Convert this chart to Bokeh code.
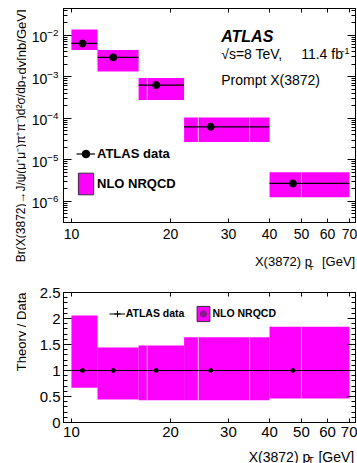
import math
import numpy as np
from bokeh.plotting import figure
from bokeh.models import (ColumnDataSource, FixedTicker, LogAxis, LinearAxis, Label,
                          Legend, LegendItem, Range1d, BasicTickFormatter, Whisker, TeeHead)
from bokeh.layouts import column, row
from bokeh.embed import file_html
from bokeh.resources import INLINE
from bokeh.core.properties import value

# ---------------- data ----------------
bin_lo = [10, 12, 16, 22, 40]
bin_hi = [12, 16, 22, 40, 70]
pt_mean = [10.8, 13.4, 18.1, 26.5, 47.1]
xsec = [6.35e-3, 2.93e-3, 6.3e-4, 6.25e-5, 2.7e-6]
xsec_up = [8.1e-3, 3.2e-3, 6.9e-4, 7.0e-5, 3.6e-6]
xsec_down = [4.9e-3, 2.67e-3, 5.7e-4, 5.6e-5, 1.7e-6]
nrqcd_up = [1.38e-2, 4.4e-3, 9.3e-4, 1.05e-4, 5.0e-6]
nrqcd_down = [4.4e-3, 1.33e-3, 2.77e-4, 2.7e-5, 1.26e-6]
nrqcd_sub_edges = [17, 24.3, 34.8, 50]
ratio_data = [1, 1, 1, 1, 1]
ratio_data_up = [1.23, 1.09, 1.09, 1.12, 1.35]
ratio_data_down = [0.78, 0.91, 0.91, 0.90, 0.65]
ratio_nrqcd_up = [2.06, 1.44, 1.48, 1.64, 1.84]
ratio_nrqcd_down = [0.67, 0.44, 0.43, 0.43, 0.46]
x_ticks = [10, 20, 30, 40, 50, 60, 70]
y_ticks_top = [1e-6, 1e-5, 1e-4, 1e-3, 1e-2]
y_ticks_ratio = [0, 0.5, 1, 1.5, 2, 2.5]
y_labels_ratio = ["0", "0.5", "1", "1.5", "2", "2.5"]

# ---------------- style ----------------
FONT = "Liberation Sans"
MAGENTA = "#ff00ff"
SUBLINE = "#ffc4ff"
W = 357
H = 463
LW = 26            # width of the strip holding the rotated y titles
MW = W - LW        # width of the plotting figures
TOP_H = 246
TOP_XLAB_H = 24
BOT_H = 175
BOT_XLAB_H = 18


def style_axis(ax, tick_in, minor_in, font_size, standoff, show_labels=True):
    ax.major_tick_in = tick_in
    ax.major_tick_out = 0
    ax.minor_tick_in = minor_in
    ax.minor_tick_out = 0
    ax.axis_line_color = "black"
    ax.major_tick_line_color = "black"
    ax.minor_tick_line_color = "black"
    ax.major_label_text_font = FONT
    ax.major_label_text_color = "black"
    if show_labels:
        ax.major_label_text_font_size = font_size
        ax.major_label_standoff = standoff
    else:
        ax.major_label_text_font_size = "1px"
        ax.major_label_text_alpha = 0
        ax.major_label_standoff = 0


def add_label(p, x, y, text, size, style="normal", align="left", angle=0.0):
    p.add_layout(Label(x=x, y=y, x_units="screen", y_units="screen", text=text,
                       text_font=FONT, text_font_size=size, text_font_style=style,
                       text_align=align, text_baseline="alphabetic", angle=angle,
                       text_color="black"))


def text_strip(w, h):
    # pixel-scaled figure with no axes: data units == pixels from the bottom-left corner
    f = figure(width=w, height=h, x_range=Range1d(0, w), y_range=Range1d(0, h),
               toolbar_location=None, output_backend="svg", min_border=0, title=None,
               x_axis_location=None, y_axis_location=None)
    f.grid.visible = False
    f.outline_line_color = None
    return f


def strip_text(f, xs, ys, texts, size):
    f.text(x=xs, y=ys, text=texts, text_font=value(FONT), text_font_size=size,
           text_align="left", text_baseline="alphabetic", text_color="black")


def sub_edge_source(lo_vals, hi_vals):
    idx = np.searchsorted(bin_hi, nrqcd_sub_edges)
    return ColumnDataSource(dict(x=nrqcd_sub_edges,
                                 y0=[lo_vals[i] for i in idx],
                                 y1=[hi_vals[i] for i in idx]))


# ================= top panel =================
top = figure(width=MW, height=TOP_H, x_axis_type="log", y_axis_type="log",
             x_range=Range1d(9.46, 73.0), y_range=Range1d(3.1e-7, 0.044),
             output_backend="svg", toolbar_location=None, title=None,
             min_border_left=63 - LW, min_border_right=2, min_border_top=8,
             min_border_bottom=24)
top.grid.visible = False
top.outline_line_color = "black"
top.outline_line_alpha = 1

y_minor_top = [k * 10.0 ** e for e in range(-7, -1) for k in range(1, 10)]
xt_top = FixedTicker(ticks=x_ticks, minor_ticks=[])
yt_top = FixedTicker(ticks=y_ticks_top, minor_ticks=y_minor_top)

bx = top.below[0]
bx.ticker = xt_top
bx.formatter = BasicTickFormatter()
style_axis(bx, 4, 0, "14px", 6)
ly = top.left[0]
ly.ticker = yt_top
style_axis(ly, 8, 4, "14px", 5)
ry = LogAxis(ticker=yt_top)
style_axis(ry, 8, 4, "1px", 0, show_labels=False)
top.add_layout(ry, "right")
ax_top = LogAxis(ticker=xt_top, formatter=BasicTickFormatter())
style_axis(ax_top, 4, 0, "1px", 0, show_labels=False)
top.add_layout(ax_top, "above")

src = ColumnDataSource(dict(lo=bin_lo, hi=bin_hi, x=pt_mean, y=xsec, up=xsec_up,
                            down=xsec_down, tu=nrqcd_up, td=nrqcd_down))
top.quad(left="lo", right="hi", bottom="td", top="tu", source=src,
         fill_color=MAGENTA, line_color=None)
top.segment(x0="x", x1="x", y0="y0", y1="y1", source=sub_edge_source(nrqcd_down, nrqcd_up),
            line_color=SUBLINE, line_width=1)
xerr_top = top.segment(x0="lo", x1="hi", y0="y", y1="y", source=src,
                       line_color="black", line_width=1.2)
top.add_layout(Whisker(base="x", upper="up", lower="down", source=src, dimension="height",
                       line_color="black", line_width=1.2,
                       upper_head=TeeHead(size=4, line_color="black", line_width=1.2),
                       lower_head=TeeHead(size=4, line_color="black", line_width=1.2)))
pts_top = top.scatter("x", "y", source=src, size=7, color="black")
leg_box_top = top.quad(left="lo", right="hi", bottom="td", top="tu", source=src,
                       fill_color=MAGENTA, line_color="#3a2a3a", line_width=1, visible=False)

top_legend = Legend(items=[LegendItem(label="ATLAS data", renderers=[xerr_top, pts_top]),
                           LegendItem(label="NLO NRQCD", renderers=[leg_box_top])],
                    location=(13, 25.5), orientation="vertical",
                    glyph_width=19, glyph_height=27, spacing=3, padding=0, margin=0,
                    label_standoff=2, label_height=27,
                    label_text_font=FONT, label_text_font_style="bold",
                    label_text_font_size="13px", label_text_color="black",
                    background_fill_alpha=0, border_line_alpha=0)
top.add_layout(top_legend)

# texts inside the frame (screen px relative to the frame's bottom-left corner)
add_label(top, 157.7, 186, "ATLAS", "16px", "bold italic")
add_label(top, 157.7, 168.7, "√s=8 TeV,", "14px")
add_label(top, 237.7, 168.7, "11.4 fb", "14px")
add_label(top, 278, 172, "-1", "9px")
add_label(top, 157.7, 143, "Prompt X(3872)", "14px")

# x title strip under the top panel
xlab_top = text_strip(MW, TOP_XLAB_H)
strip_text(xlab_top, [217, 293], [9, 9], ["X(3872) p", "[GeV]"], "13px")
strip_text(xlab_top, [277.5], [2], ["T"], "9px")

# ================= ratio panel =================
bot = figure(width=MW, height=BOT_H, x_axis_type="log",
             x_range=top.x_range, y_range=Range1d(0, 2.5),
             output_backend="svg", toolbar_location=None, title=None,
             min_border_left=63 - LW, min_border_right=2, min_border_top=22,
             min_border_bottom=23)
bot.grid.visible = False
bot.outline_line_color = "black"
bot.outline_line_alpha = 1

xt_bot = FixedTicker(ticks=x_ticks, minor_ticks=[])
yt_bot = FixedTicker(ticks=y_ticks_ratio, minor_ticks=[i / 10 for i in range(26)])
bbx = bot.below[0]
bbx.ticker = xt_bot
bbx.formatter = BasicTickFormatter()
style_axis(bbx, 4, 0, "15px", 4)
bly = bot.left[0]
bly.ticker = yt_bot
bly.major_label_overrides = dict(zip(y_ticks_ratio, y_labels_ratio))
style_axis(bly, 8, 4, "15px", 3)
bry = LinearAxis(ticker=yt_bot)
style_axis(bry, 8, 4, "1px", 0, show_labels=False)
bot.add_layout(bry, "right")
bax = LogAxis(ticker=xt_bot, formatter=BasicTickFormatter())
style_axis(bax, 4, 0, "1px", 0, show_labels=False)
bot.add_layout(bax, "above")

rsrc = ColumnDataSource(dict(lo=bin_lo, hi=bin_hi, x=pt_mean, y=ratio_data,
                             up=ratio_data_up, down=ratio_data_down,
                             tu=ratio_nrqcd_up, td=ratio_nrqcd_down))
bot.quad(left="lo", right="hi", bottom="td", top="tu", source=rsrc,
         fill_color=MAGENTA, line_color=None)
bot.segment(x0="x", x1="x", y0="y0", y1="y1",
            source=sub_edge_source(ratio_nrqcd_down, ratio_nrqcd_up),
            line_color=SUBLINE, line_width=1)
xerr_bot = bot.segment(x0="lo", x1="hi", y0="y", y1="y", source=rsrc,
                       line_color="black", line_width=1)
bot.add_layout(Whisker(base="x", upper="up", lower="down", source=rsrc, dimension="height",
                       line_color="black", line_width=1,
                       upper_head=TeeHead(size=4, line_color="black", line_width=1),
                       lower_head=TeeHead(size=4, line_color="black", line_width=1)))
bot.scatter("x", "y", source=rsrc, size=4, color="black")
leg_cross = bot.scatter("x", "y", source=rsrc, marker="cross", line_color="black",
                        line_width=1, visible=False)
leg_box_bot = bot.quad(left="lo", right="hi", bottom="td", top="tu", source=rsrc,
                       fill_color=MAGENTA, line_color="#3a2a3a", line_width=1, visible=False)
leg_dot_bot = bot.scatter("x", "y", source=rsrc, color="#8a1a8a", visible=False)

bot_legend = Legend(items=[LegendItem(label="ATLAS data", renderers=[xerr_bot, leg_cross]),
                           LegendItem(label="NLO NRQCD", renderers=[leg_box_bot, leg_dot_bot])],
                    location=(45.7, 99.5), orientation="horizontal",
                    glyph_width=16, glyph_height=19, spacing=11, padding=0, margin=0,
                    label_standoff=1, label_height=19,
                    label_text_font=FONT, label_text_font_style="bold",
                    label_text_font_size="10.5px", label_text_color="black",
                    background_fill_alpha=0, border_line_alpha=0)
bot.add_layout(bot_legend)

xlab_bot = text_strip(MW, BOT_XLAB_H)
strip_text(xlab_bot, [210, 289], [7, 7], ["X(3872) p", "[GeV]"], "14px")
strip_text(xlab_bot, [277], [2], ["T"], "10px")

# one strip on the left holding both rotated y titles (y measured up from the page bottom)
ylab = text_strip(LW, H)
add_label(ylab, 20.7, H - 80, "Br(X(3872)→J/ψ(μ⁺μ⁻)π⁺π⁻)d²σ/dp", "12px",
          align="right", angle=math.pi / 2)
add_label(ylab, 24, H - 80, "T", "9px", angle=math.pi / 2)
add_label(ylab, 20.7, H - 74, "dy[nb/GeV]", "13px", angle=math.pi / 2)
add_label(ylab, 20.7, H - 292, "Theory / Data", "13px", align="right", angle=math.pi / 2)

layout = row(ylab, column(top, xlab_top, bot, xlab_bot))
open("out.html", "w").write(file_html(layout, INLINE))
